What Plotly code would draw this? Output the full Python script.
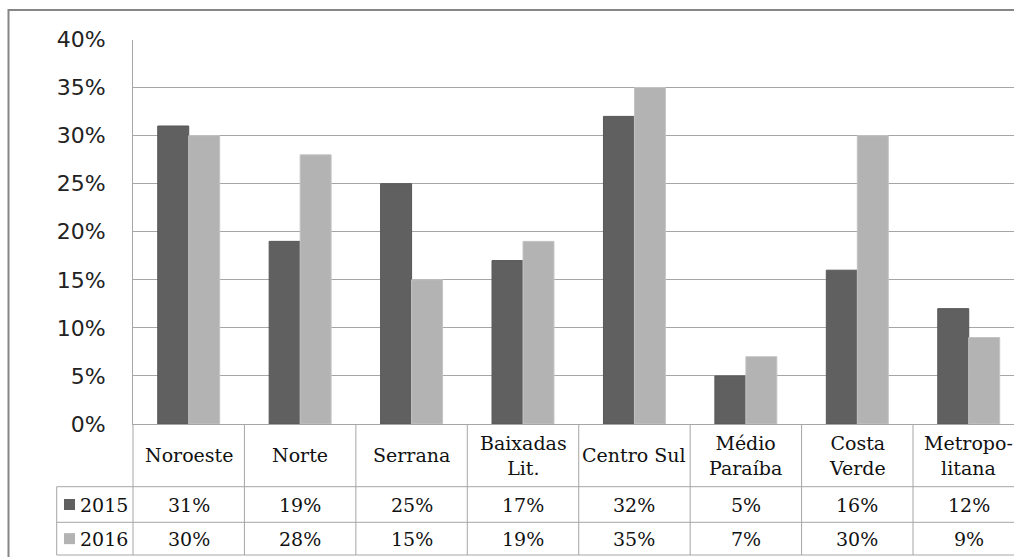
import plotly.graph_objects as go

# ---- data ----
categories = ["Noroeste", "Norte", "Serrana", "Baixadas<br>Lit.", "Centro Sul",
              "Médio<br>Paraíba", "Costa<br>Verde", "Metropo-<br>litana"]
series_names = ["2015", "2016"]
values_2015 = [31, 19, 25, 17, 32, 5, 16, 12]
values_2016 = [30, 28, 15, 19, 35, 7, 30, 9]
y_ticks = [0, 5, 10, 15, 20, 25, 30, 35, 40]
y_tick_labels = [f"{v}%" for v in y_ticks]

# ---- style ----
W, H = 1014, 557
C15, C16 = "#606060", "#b3b3b3"
GRID = "#a6a6a6"
SERIF = "DejaVu Serif"
SANS = "DejaVu Sans"

PLOT_L, PLOT_T, PLOT_B = 133, 39.5, 424
CAT_W = 111.43


def px(x):
    return x / W


def py(y):
    return 1 - y / H


fig = go.Figure()
for name, vals, col, lcol in [(series_names[0], values_2015, C15, "#575757"),
                              (series_names[1], values_2016, C16, "#c4c4c4")]:
    fig.add_trace(go.Bar(x=categories, y=vals, name=name,
                         marker=dict(color=col, line=dict(color=lcol, width=1))))

n_vis = (W - PLOT_L) / CAT_W
fig.update_layout(
    width=W, height=H, margin=dict(l=0, r=0, t=0, b=0, autoexpand=False),
    paper_bgcolor="white", plot_bgcolor="white",
    barmode="group", bargap=0.444, bargroupgap=0, showlegend=False,
    xaxis=dict(domain=[px(PLOT_L), 1], range=[-0.5, -0.5 + n_vis],
               showticklabels=False, showgrid=False, ticks="", automargin=False,
               showline=True, linecolor=GRID, linewidth=1, zeroline=False),
    yaxis=dict(domain=[py(PLOT_B), py(PLOT_T)], range=[0, 40],
               tickvals=y_ticks, ticktext=y_tick_labels, ticks="", automargin=False,
               tickfont=dict(family=SANS, size=22, color="#222222"),
               ticklabelstandoff=22,
               showgrid=True, gridcolor=GRID, gridwidth=1,
               showline=True, linecolor=GRID, linewidth=1, zeroline=False),
)

shapes = []
# outer chart border (top & left visible)
shapes.append(dict(type="rect", xref="paper", yref="paper",
                   x0=px(8.5), y0=py(600), x1=px(1100), y1=py(10),
                   line=dict(color="#868686", width=2)))

# data table geometry
ROW1, ROW2, ROW3 = 486.7, 522.3, 555
LEG_L = 56.7
for i in range(len(categories) + 1):
    xb = PLOT_L + i * CAT_W
    shapes.append(dict(type="line", xref="paper", yref="paper",
                       x0=px(xb), x1=px(xb), y0=py(PLOT_B), y1=py(ROW3),
                       line=dict(color=GRID, width=1)))
shapes.append(dict(type="line", xref="paper", yref="paper",
                   x0=px(LEG_L), x1=px(LEG_L), y0=py(ROW1), y1=py(ROW3),
                   line=dict(color=GRID, width=1)))
for yr in (ROW1, ROW2, ROW3):
    shapes.append(dict(type="line", xref="paper", yref="paper",
                       x0=px(LEG_L), x1=px(1100), y0=py(yr), y1=py(yr),
                       line=dict(color=GRID, width=1)))
for (yc, col) in [((ROW1 + ROW2) / 2, C15), ((ROW2 + ROW3) / 2, C16)]:
    shapes.append(dict(type="rect", xref="paper", yref="paper",
                       x0=px(64), x1=px(75), y0=py(yc + 5.5), y1=py(yc - 5.5),
                       fillcolor=col, line=dict(width=0)))

annotations = []
tfont = dict(family=SERIF, size=19, color="#111111")
for i, cat in enumerate(categories):
    annotations.append(dict(x=i, y=py((PLOT_B + ROW1) / 2), xref="x", yref="paper",
                            text=cat, showarrow=False, font=tfont,
                            xanchor="center", yanchor="middle"))
    annotations.append(dict(x=i, y=py((ROW1 + ROW2) / 2), xref="x", yref="paper",
                            text=f"{values_2015[i]}%", showarrow=False, font=tfont,
                            xanchor="center", yanchor="middle"))
    annotations.append(dict(x=i, y=py((ROW2 + ROW3) / 2), xref="x", yref="paper",
                            text=f"{values_2016[i]}%", showarrow=False, font=tfont,
                            xanchor="center", yanchor="middle"))
for name, yc in [(series_names[0], (ROW1 + ROW2) / 2), (series_names[1], (ROW2 + ROW3) / 2)]:
    annotations.append(dict(x=px(78), y=py(yc), xref="paper", yref="paper",
                            text=name, showarrow=False, font=tfont,
                            xanchor="left", yanchor="middle"))

fig.update_layout(shapes=shapes, annotations=annotations)
fig.write_html("out.html")
